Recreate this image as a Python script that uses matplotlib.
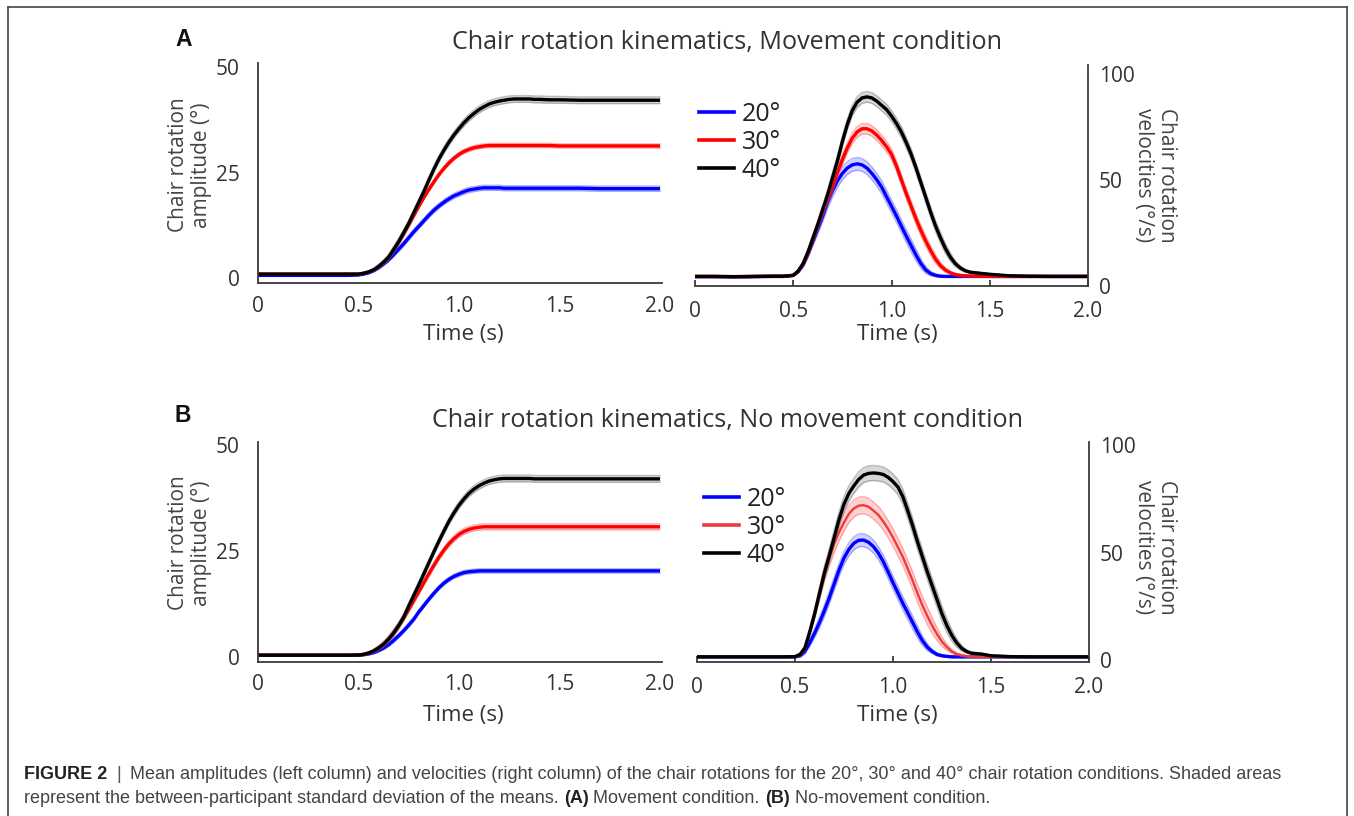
import matplotlib
matplotlib.use('Agg')
import matplotlib.pyplot as plt
from matplotlib.lines import Line2D

# ---------------- data ----------------
TIME = [0.0, 0.1, 0.2, 0.3, 0.4, 0.45,
        0.5, 0.525, 0.55, 0.575, 0.6, 0.625, 0.65, 0.675, 0.7, 0.725, 0.75, 0.775,
        0.8, 0.825, 0.85, 0.875, 0.9, 0.925, 0.95, 0.975, 1.0, 1.025, 1.05, 1.075,
        1.1, 1.125, 1.15, 1.175, 1.2, 1.225, 1.25, 1.275, 1.3, 1.325, 1.35, 1.375, 1.4,
        1.45, 1.5, 1.6, 1.7, 1.8, 1.9, 2.0]

CONDITIONS = ['20°', '30°', '40°']

# amplitude (deg), Movement condition
AMP_MOVE_20 = [0.7, 0.7, 0.7, 0.7, 0.7, 0.7,
               0.8, 1.0, 1.3, 1.8, 2.5, 3.4, 4.4, 5.6, 6.9, 8.2, 9.6, 11.0,
               12.3, 13.6, 14.9, 16.1, 17.1, 18.0, 18.8, 19.5, 20.0, 20.5, 20.9, 21.1,
               21.3, 21.4, 21.4, 21.4, 21.4, 21.3, 21.3, 21.3, 21.3, 21.3, 21.3, 21.3, 21.3,
               21.3, 21.3, 21.3, 21.2, 21.2, 21.2, 21.2]
AMP_MOVE_30 = [1.0, 1.0, 1.0, 1.0, 1.0, 1.0,
               1.0, 1.2, 1.5, 2.0, 2.8, 3.8, 5.0, 6.7, 8.5, 10.5, 12.6, 14.8,
               17.0, 19.1, 21.0, 22.8, 24.5, 26.0, 27.3, 28.4, 29.3, 30.0, 30.5, 30.9,
               31.1, 31.3, 31.4, 31.4, 31.4, 31.4, 31.4, 31.4, 31.4, 31.4, 31.4, 31.4, 31.4,
               31.4, 31.3, 31.3, 31.3, 31.3, 31.3, 31.3]
AMP_MOVE_40 = [1.0, 1.0, 1.0, 1.0, 1.0, 1.0,
               1.0, 1.2, 1.5, 2.0, 2.8, 3.8, 5.0, 6.8, 8.7, 10.8, 13.0, 15.5,
               18.0, 20.5, 23.2, 25.8, 28.2, 30.3, 32.2, 33.9, 35.4, 36.8, 38.0, 39.0,
               39.9, 40.6, 41.2, 41.6, 41.9, 42.1, 42.3, 42.4, 42.4, 42.4, 42.4, 42.3, 42.3,
               42.2, 42.2, 42.1, 42.1, 42.1, 42.1, 42.1]

# velocity (deg/s), Movement condition
VEL_MOVE_20 = [4.4, 4.4, 4.3, 4.4, 4.5, 4.5,
               5.0, 6.8, 10.0, 15.0, 21.0, 27.0, 33.0, 39.5, 45.0, 49.5, 53.0, 55.5,
               57.0, 57.5, 57.0, 55.5, 53.0, 50.0, 46.5, 42.0, 37.5, 33.0, 28.2, 23.5,
               19.0, 14.5, 10.5, 7.5, 5.8, 5.0, 4.6, 4.5, 4.5, 4.5, 4.5, 4.5, 4.5,
               4.5, 4.5, 4.5, 4.5, 4.5, 4.5, 4.5]
VEL_MOVE_30 = [4.5, 4.5, 4.4, 4.5, 4.6, 4.6,
               5.0, 7.0, 10.3, 15.5, 22.0, 28.5, 35.0, 41.0, 47.0, 53.5, 59.5, 65.0,
               69.5, 72.5, 74.0, 74.0, 73.0, 71.0, 68.5, 65.5, 62.0, 56.5, 50.0, 43.5,
               37.5, 31.5, 26.0, 21.0, 16.5, 12.5, 9.5, 7.5, 6.2, 5.4, 5.0, 4.8, 4.7,
               4.6, 4.5, 4.5, 4.5, 4.5, 4.5, 4.5]
VEL_MOVE_40 = [4.5, 4.5, 4.4, 4.5, 4.6, 4.6,
               5.0, 7.0, 10.5, 16.0, 22.5, 29.0, 36.0, 43.0, 51.0, 59.0, 68.0, 76.0,
               82.5, 86.5, 88.5, 89.0, 88.5, 87.0, 85.0, 83.0, 80.0, 76.5, 72.5, 67.5,
               62.0, 55.5, 48.5, 41.5, 34.5, 28.0, 22.5, 17.5, 13.5, 10.5, 8.5, 7.2, 6.5,
               6.0, 5.5, 4.8, 4.6, 4.5, 4.5, 4.5]

# amplitude (deg), No movement condition
AMP_NOMOVE_20 = [0.4, 0.4, 0.4, 0.4, 0.4, 0.4,
                 0.4, 0.5, 0.7, 1.0, 1.5, 2.1, 2.9, 3.9, 5.0, 6.2, 7.5, 8.9,
                 10.6, 12.1, 13.6, 15.0, 16.3, 17.4, 18.3, 19.0, 19.5, 19.9, 20.1, 20.2,
                 20.3, 20.3, 20.3, 20.3, 20.3, 20.3, 20.3, 20.3, 20.3, 20.3, 20.3, 20.3, 20.3,
                 20.3, 20.3, 20.3, 20.3, 20.3, 20.3, 20.3]
AMP_NOMOVE_30 = [0.4, 0.4, 0.4, 0.4, 0.4, 0.4,
                 0.45, 0.6, 0.9, 1.4, 2.1, 3.0, 4.2, 5.6, 7.3, 9.2, 11.2, 13.3,
                 15.4, 17.5, 19.6, 21.6, 23.5, 25.2, 26.7, 27.9, 28.9, 29.6, 30.1, 30.4,
                 30.6, 30.7, 30.7, 30.7, 30.7, 30.7, 30.7, 30.7, 30.7, 30.7, 30.7, 30.7, 30.7,
                 30.7, 30.7, 30.7, 30.7, 30.7, 30.7, 30.7]
AMP_NOMOVE_40 = [0.4, 0.4, 0.4, 0.4, 0.4, 0.4,
                 0.45, 0.6, 0.9, 1.4, 2.1, 3.0, 4.2, 5.7, 7.4, 9.4, 12.0, 14.5,
                 17.0, 19.6, 22.2, 24.8, 27.3, 29.7, 32.0, 34.0, 35.8, 37.3, 38.6, 39.6,
                 40.4, 41.0, 41.5, 41.8, 42.0, 42.1, 42.1, 42.1, 42.1, 42.1, 42.1, 42.0, 42.0,
                 42.0, 42.0, 42.0, 42.0, 42.0, 42.0, 42.0]

# velocity (deg/s), No movement condition
VEL_NOMOVE_20 = [1.5, 1.5, 1.5, 1.5, 1.5, 1.5,
                 1.5, 2.0, 4.0, 8.0, 12.5, 17.5, 23.0, 29.0, 35.5, 42.0, 47.5, 51.5,
                 54.3, 55.7, 55.8, 54.8, 52.8, 49.8, 45.8, 41.0, 36.0, 31.2, 26.4, 22.0,
                 17.5, 13.0, 9.0, 6.0, 4.0, 2.6, 2.0, 1.7, 1.5, 1.5, 1.5, 1.5, 1.5,
                 1.5, 1.5, 1.5, 1.5, 1.5, 1.5, 1.5]
VEL_NOMOVE_30 = [1.5, 1.5, 1.5, 1.5, 1.5, 1.5,
                 1.6, 2.5, 5.5, 13.0, 21.5, 31.0, 40.0, 47.5, 54.0, 59.5, 64.0, 68.0,
                 70.5, 71.8, 72.0, 71.3, 69.5, 67.5, 64.5, 61.0, 57.0, 52.5, 48.0, 42.5,
                 37.0, 31.0, 25.5, 20.5, 16.0, 12.0, 8.5, 6.0, 4.0, 2.8, 2.2, 1.8, 1.6,
                 1.5, 1.5, 1.5, 1.5, 1.5, 1.5, 1.5]
VEL_NOMOVE_40 = [1.5, 1.5, 1.5, 1.5, 1.5, 1.5,
                 1.6, 2.5, 5.5, 13.0, 21.5, 31.0, 40.5, 48.5, 57.0, 65.5, 72.5, 77.5,
                 81.0, 84.0, 86.0, 86.8, 87.0, 86.8, 86.3, 85.0, 83.0, 80.5, 76.0, 69.5,
                 62.5, 55.0, 48.0, 41.0, 34.5, 28.0, 21.5, 16.0, 11.5, 8.0, 5.5, 4.0, 3.2,
                 2.8, 2.0, 1.6, 1.5, 1.5, 1.5, 1.5]

# between-participant SD (half-width of the shaded bands), same TIME grid
SD_AMP_MOVE_20 = [0.2] * 8 + [0.25, 0.3, 0.35, 0.4, 0.45, 0.5, 0.55, 0.6] + [0.6] * 34
SD_AMP_MOVE_30 = [0.2] * 8 + [0.25, 0.3, 0.35, 0.4, 0.45, 0.5, 0.5, 0.5] + [0.5] * 34
SD_AMP_MOVE_40 = [0.2] * 8 + [0.3, 0.4, 0.5, 0.6, 0.7, 0.8, 0.8, 0.8] + [0.8] * 34
SD_AMP_NOMOVE_20 = [0.2] * 8 + [0.25, 0.3, 0.35, 0.4, 0.45, 0.5, 0.5, 0.5] + [0.5] * 34
SD_AMP_NOMOVE_30 = [0.2] * 8 + [0.3, 0.4, 0.5, 0.6, 0.7, 0.7, 0.7, 0.7] + [0.7] * 34
SD_AMP_NOMOVE_40 = [0.2] * 8 + [0.3, 0.4, 0.5, 0.6, 0.7, 0.8, 0.8, 0.8] + [0.8] * 34

SD_VEL_MOVE_20 = ([0.4] * 7 + [0.8, 1.2, 1.6, 2.0, 2.4, 2.7, 2.9, 3.0] + [3.0] * 16
                  + [2.7, 2.2, 1.6, 1.0, 0.7, 0.5] + [0.4] * 13)
SD_VEL_MOVE_30 = ([0.4] * 7 + [0.6, 1.0, 1.3, 1.6, 1.9, 2.2, 2.4, 2.5] + [2.5] * 19
                  + [2.3, 1.9, 1.4, 1.0, 0.7, 0.5] + [0.4] * 10)
SD_VEL_MOVE_40 = ([0.4] * 7 + [0.6, 1.0, 1.3, 1.6, 1.9, 2.2, 2.4, 2.5] + [2.5] * 22
                  + [2.3, 1.9, 1.4, 1.0, 0.7, 0.5] + [0.4] * 7)
SD_VEL_NOMOVE_20 = ([0.4] * 7 + [0.8, 1.2, 1.6, 2.0, 2.4, 2.7, 2.9, 3.0] + [3.0] * 16
                    + [2.7, 2.2, 1.6, 1.0, 0.7, 0.5] + [0.4] * 13)
SD_VEL_NOMOVE_30 = ([0.4] * 7 + [0.8, 1.3, 1.8, 2.3, 2.8, 3.3, 3.7, 4.0] + [4.0] * 19
                    + [3.6, 2.9, 2.1, 1.4, 0.9, 0.5] + [0.4] * 10)
SD_VEL_NOMOVE_40 = ([0.4] * 7 + [0.7, 1.1, 1.5, 2.0, 2.5, 2.9, 3.3, 3.5] + [3.5] * 22
                    + [3.2, 2.6, 1.9, 1.3, 0.8, 0.5] + [0.4] * 7)

X_TICKS = [0, 0.5, 1.0, 1.5, 2.0]
X_TICK_LABELS = ['0', '0.5', '1.0', '1.5', '2.0']
AMP_TICKS = [0, 25, 50]
VEL_TICKS = [0, 50, 100]

TITLES = ['Chair rotation kinematics, Movement condition',
          'Chair rotation kinematics, No movement condition']

# ---------------- styling ----------------
W, H = 1354, 816
FONT = ['Open Sans', 'DejaVu Sans']
plt.rcParams['font.family'] = FONT
TXT = '#333333'
AX_COL = '#3a3a3a'

LINE_COLORS = ['#0000ff', '#ff0000', '#000000']
BAND_COLORS = ['#5a5aff', '#ff5a5a', '#707070']

fig = plt.figure(figsize=(W / 100, H / 100), dpi=100)
renderer = fig.canvas.get_renderer()


def rect(x0, x1, ytop, ybot):
    return [x0 / W, 1 - ybot / H, (x1 - x0) / W, (ybot - ytop) / H]


def draw_series(ax, series, sds, line_colors, lws):
    for y, sd, c, bc, lw in zip(series, sds, line_colors, BAND_COLORS, lws):
        lo = [v - s for v, s in zip(y, sd)]
        hi = [v + s for v, s in zip(y, sd)]
        ax.fill_between(TIME, lo, hi, color=bc, alpha=0.28, lw=0)
        ax.plot(TIME, lo, color=bc, alpha=0.45, lw=1.0)
        ax.plot(TIME, hi, color=bc, alpha=0.45, lw=1.0)
        ax.plot(TIME, y, color=c, lw=lw, solid_capstyle='butt')


def style_left(ax, ylim):
    ax.set_xlim(0, 2.01)
    ax.set_ylim(*ylim)
    for s in ['top', 'right']:
        ax.spines[s].set_visible(False)
    for s in ['left', 'bottom']:
        ax.spines[s].set_color(AX_COL)
        ax.spines[s].set_linewidth(1.3)
    ax.set_xticks(X_TICKS)
    ax.set_xticklabels(X_TICK_LABELS)
    ax.set_yticks(AMP_TICKS)
    ax.tick_params(axis='x', length=0, pad=9, labelsize=15, labelcolor=TXT)
    ax.tick_params(axis='y', length=0, pad=13, labelsize=15, labelcolor=TXT)
    ax.patch.set_alpha(0)


def style_right(ax, ylim):
    ax.set_xlim(0, 2.0)
    ax.set_ylim(*ylim)
    for s in ['top', 'left']:
        ax.spines[s].set_visible(False)
    for s in ['right', 'bottom']:
        ax.spines[s].set_color(AX_COL)
        ax.spines[s].set_linewidth(1.3)
    ax.yaxis.tick_right()
    ax.set_xticks(X_TICKS)
    ax.set_xticklabels(X_TICK_LABELS)
    ax.set_yticks(VEL_TICKS)
    ax.tick_params(axis='x', direction='in', length=4, width=1.3, color=AX_COL,
                   pad=11, labelsize=15, labelcolor=TXT)
    ax.tick_params(axis='y', length=0, pad=8, labelsize=15, labelcolor=TXT)
    ax.patch.set_alpha(0)


def fitted_text(x, y, s, width_px, size0, **kw):
    t = fig.text(x / W, 1 - y / H, s, fontsize=size0, **kw)
    w = t.get_window_extent(renderer).width
    t.set_fontsize(size0 * width_px / w)
    return t


panels = [
    dict(amp=[AMP_MOVE_20, AMP_MOVE_30, AMP_MOVE_40], vel=[VEL_MOVE_20, VEL_MOVE_30, VEL_MOVE_40],
         sda=[SD_AMP_MOVE_20, SD_AMP_MOVE_30, SD_AMP_MOVE_40],
         sdv=[SD_VEL_MOVE_20, SD_VEL_MOVE_30, SD_VEL_MOVE_40],
         amp_rect=(258, 662, 63, 283), amp_ylim=(-1.1, 50.9),
         vel_rect=(695, 1088, 65, 286), vel_ylim=(0, 104),
         letter='A', letter_y=46.5, title_y=48.5, title_x=727.5, title_w=551, xlab_y=340,
         ylab_y=165, vlab_y=175, leg_top=102, leg_x=699, vel_colors=LINE_COLORS),
    dict(amp=[AMP_NOMOVE_20, AMP_NOMOVE_30, AMP_NOMOVE_40], vel=[VEL_NOMOVE_20, VEL_NOMOVE_30, VEL_NOMOVE_40],
         sda=[SD_AMP_NOMOVE_20, SD_AMP_NOMOVE_30, SD_AMP_NOMOVE_40],
         sdv=[SD_VEL_NOMOVE_20, SD_VEL_NOMOVE_30, SD_VEL_NOMOVE_40],
         amp_rect=(258, 662, 442, 662), amp_ylim=(-1.2, 50.7),
         vel_rect=(697, 1089, 442, 662), vel_ylim=(-0.9, 101.4),
         letter='B', letter_y=421.5, title_y=427.5, title_x=728, title_w=590, xlab_y=721,
         ylab_y=543, vlab_y=547, leg_top=487, leg_x=704, vel_colors=['#0000ff', '#ee3b3b', '#000000']),
]

for i, p in enumerate(panels):
    ax_a = fig.add_axes(rect(*p['amp_rect']))
    draw_series(ax_a, p['amp'], p['sda'], LINE_COLORS, [2.4, 2.4, 2.4])
    style_left(ax_a, p['amp_ylim'])

    ax_v = fig.add_axes(rect(*p['vel_rect']))
    lws = [2.4, 2.4 if i == 0 else 1.7, 2.4]
    draw_series(ax_v, p['vel'], p['sdv'], p['vel_colors'], lws)
    style_right(ax_v, p['vel_ylim'])

    handles = [Line2D([], [], color=c, lw=2.6) for c in p['vel_colors']]
    leg = ax_v.legend(handles, CONDITIONS, loc='upper left',
                      bbox_to_anchor=(p['leg_x'] / W, 1 - p['leg_top'] / H),
                      bbox_transform=fig.transFigure, frameon=False,
                      fontsize=18, handlelength=1.4, handletextpad=0.3,
                      labelspacing=0.12, borderpad=0, borderaxespad=0)
    for t in leg.get_texts():
        t.set_color('#222222')

    # panel letter and title
    fig.text(175 / W, 1 - p['letter_y'] / H, p['letter'], fontsize=16.5, fontweight='bold',
             family=['Liberation Sans', 'DejaVu Sans'], color='#111111', ha='left', va='baseline')
    fitted_text(p['title_x'], p['title_y'], TITLES[i], p['title_w'], 18, color=TXT,
                ha='center', va='baseline')

    # axis labels
    fig.text(463 / W, 1 - p['xlab_y'] / H, 'Time (s)', fontsize=16, color=TXT,
             ha='center', va='baseline')
    fig.text(897 / W, 1 - p['xlab_y'] / H, 'Time (s)', fontsize=16, color=TXT,
             ha='center', va='baseline')
    fig.text(190 / W, 1 - p['ylab_y'] / H, 'Chair rotation\namplitude (°)', fontsize=15,
             color='#444444', ha='center', va='center', rotation=90, linespacing=1.1,
             multialignment='center')
    fig.text(1155 / W, 1 - p['vlab_y'] / H, 'Chair rotation\nvelocities (°/s)', fontsize=15,
             color='#444444', ha='center', va='center', rotation=270, linespacing=1.1,
             multialignment='center')

# ---------------- frame ----------------
frame_kw = dict(transform=fig.transFigure, color='#444444', lw=1.2)
fig.add_artist(Line2D([8 / W, 8 / W], [0, 1 - 7 / H], **frame_kw))
fig.add_artist(Line2D([1347 / W, 1347 / W], [0, 1 - 7 / H], **frame_kw))
fig.add_artist(Line2D([8 / W, 1347 / W], [1 - 7 / H, 1 - 7 / H], **frame_kw))

# ---------------- caption ----------------
CAP_FONT = ['Liberation Sans Narrow', 'Liberation Sans', 'DejaVu Sans']
line1 = [('FIGURE 2', 'bold', '#222222'), ('|', 'normal', '#555555'),
         ('Mean amplitudes (left column) and velocities (right column) of the chair rotations '
          'for the 20°, 30° and 40° chair rotation conditions. Shaded areas', 'normal', '#444444')]
line2 = [('represent the between-participant standard deviation of the means.', 'normal', '#444444'),
         ('(A)', 'bold', '#222222'), ('Movement condition.', 'normal', '#444444'),
         ('(B)', 'bold', '#222222'), ('No-movement condition.', 'normal', '#444444')]


def layout(pieces, x0, y, size, gaps):
    texts = []
    x = x0
    for k, (s, w, c) in enumerate(pieces):
        t = fig.text(x / W, 1 - y / H, s, fontsize=size, fontweight=w, color=c,
                     family=CAP_FONT, ha='left', va='baseline')
        texts.append(t)
        x += t.get_window_extent(renderer).width
        if k < len(pieces) - 1:
            x += gaps[k] * size * 100 / 72
    return texts, x


size = 12.0
texts, xend = layout(line1, 24, 779, size, [0.5, 0.5])
for t in texts:
    t.remove()
size = size * (1285 - 24) / (xend - 24)
layout(line1, 24, 779, size, [0.5, 0.5])
layout(line2, 24, 803, size, [0.28, 0.28, 0.28, 0.28])

fig.savefig('out.png', dpi=100)
